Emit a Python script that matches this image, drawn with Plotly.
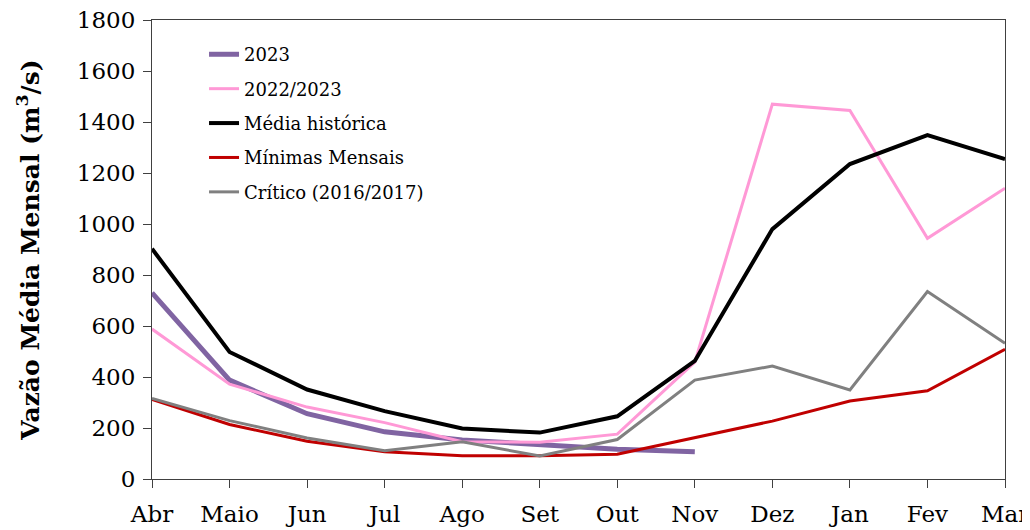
import plotly.graph_objects as go

meses = ["Abr", "Maio", "Jun", "Jul", "Ago", "Set", "Out", "Nov", "Dez", "Jan", "Fev", "Mar"]

vazao_2023 = [730, 388, 256, 185, 153, 134, 117, 107]
vazao_2022_2023 = [588, 372, 282, 221, 146, 144, 176, 458, 1470, 1445, 944, 1140]
media_historica = [903, 498, 351, 266, 198, 182, 246, 463, 980, 1235, 1349, 1255]
minimas_mensais = [312, 214, 148, 107, 91, 91, 97, 163, 227, 306, 346, 509]
critico_2016_2017 = [316, 229, 161, 111, 146, 90, 155, 388, 443, 349, 735, 532]

series = [
    ("2023", meses[:len(vazao_2023)], vazao_2023, "#8064a2", 5),
    ("2022/2023", meses, vazao_2022_2023, "#ff99d6", 3),
    ("Média histórica", meses, media_historica, "#000000", 4),
    ("Mínimas Mensais", meses, minimas_mensais, "#c00000", 3),
    ("Crítico (2016/2017)", meses, critico_2016_2017, "#808080", 3),
]

fig = go.Figure()

for nome, x, y, cor, larg in series:
    fig.add_trace(
        go.Scatter(
            x=x,
            y=y,
            name=nome,
            legendgroup=nome,
            mode="lines",
            line=dict(color=cor, width=larg),
        )
    )

fonte = "DejaVu Serif"

# a pagina tem 8px de margem no body
fig.update_layout(
    width=1030,
    height=530,
    paper_bgcolor="white",
    plot_bgcolor="white",
    margin=dict(l=144, r=33, t=12, b=59),
    font=dict(family=fonte, color="black"),
    legend=dict(
        x=0.061,
        y=0.965,
        xanchor="left",
        yanchor="top",
        font=dict(size=18, family=fonte),
        itemwidth=30,
        tracegroupgap=8,
        bgcolor="rgba(0,0,0,0)",
    ),
    xaxis=dict(
        type="category",
        categoryorder="array",
        categoryarray=meses,
        range=[0, 11],
        automargin=False,
        showline=True,
        linecolor="#404040",
        linewidth=1,
        mirror=True,
        ticks="outside",
        ticklen=8,
        tickcolor="#404040",
        tickfont=dict(size=23, family=fonte),
        ticklabelstandoff=6,
        ticklabeloverflow="allow",
        showgrid=False,
        zeroline=False,
    ),
    yaxis=dict(
        range=[0, 1800],
        dtick=200,
        automargin=False,
        showline=True,
        linecolor="#404040",
        linewidth=1,
        mirror=True,
        ticks="outside",
        ticklen=8,
        tickcolor="#404040",
        tickfont=dict(size=23, family=fonte),
        ticklabelstandoff=3,
        ticklabeloverflow="allow",
        showgrid=False,
        zeroline=False,
        title=dict(
            text="<b>Vazão Média Mensal (m<sup>3</sup>/s)</b>",
            font=dict(size=25, family=fonte),
            standoff=30,
        ),
    ),
)

fig.write_html("out.html")
